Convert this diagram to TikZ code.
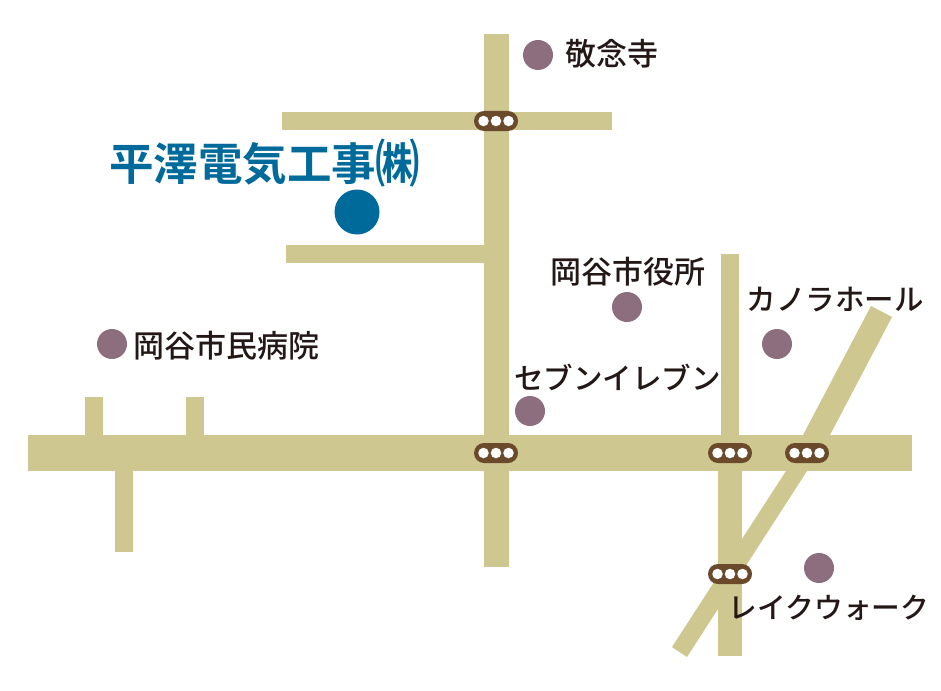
\documentclass[tikz,border=0pt]{standalone}
\usepackage{fontspec}
\newfontfamily\jpfont{Noto Sans CJK JP Medium}
\newfontfamily\jpbold{Noto Sans CJK JP Bold}
\definecolor{road}{HTML}{CEC78F}
\definecolor{lamp}{HTML}{6B4A2B}
\definecolor{spot}{HTML}{8C6E7E}
\definecolor{firm}{HTML}{006A9B}
\definecolor{ink}{HTML}{231815}
\tikzset{
  roadfill/.style={fill=road,draw=none},
  spotdot/.style={circle,fill=spot,draw=none,minimum size=30pt,inner sep=0pt},
  firmdot/.style={circle,fill=firm,draw=none,minimum size=45pt,inner sep=0pt},
  pill/.style={rounded rectangle,fill=lamp,draw=none,minimum width=44pt,minimum height=20pt,inner sep=0pt},
  lampdot/.style={circle,fill=white,draw=none,minimum size=10.5pt,inner sep=0pt},
  place/.style={text=ink,inner sep=0pt,font=\jpfont\fontsize{31}{31}\selectfont},
  kana/.style={text=ink,inner sep=0pt,font=\jpfont\fontsize{29.5}{31}\selectfont},
  firmname/.style={text=firm,inner sep=0pt,font=\jpbold\fontsize{44.5}{44.5}\selectfont},
}
\usetikzlibrary{shapes.misc}
\newcommand{\signal}[2]{%
  \node[pill] (sig#2) at #1 {};
  \node[lampdot] at ([xshift=-12.5pt]sig#2.center) {};
  \node[lampdot] at (sig#2.center) {};
  \node[lampdot] at ([xshift=12.5pt]sig#2.center) {};
}
\begin{document}
\begin{tikzpicture}[x=1pt,y=-1pt]
\useasboundingbox (0,0) rectangle (941,690);
\fill[white] (0,0) rectangle (941,690);
% roads
\fill[roadfill] (484,34) rectangle (509,567);
\fill[roadfill] (282,112) rectangle (612,130);
\fill[roadfill] (286,245) rectangle (484,263);
\fill[roadfill] (28,435) rectangle (912,471);
\fill[roadfill] (85,397) rectangle (103,435);
\fill[roadfill] (186,397) rectangle (204,435);
\fill[roadfill] (115,471) rectangle (133,552);
\fill[roadfill] (721,254) rectangle (739,435);
\fill[roadfill] (718,471) rectangle (742,656);
\fill[roadfill] (871,306) -- (892,317) -- (830,435) -- (803,435) -- cycle;
\fill[roadfill] (786,471) -- (807,471) -- (687,657) -- (672,647) -- cycle;
% signals
\signal{(496,121)}{a}
\signal{(496,453)}{b}
\signal{(730,453)}{c}
\signal{(807,453)}{d}
\signal{(730,574)}{e}
% spots
\node[spotdot] (keinenji) at (538,55) {};
\node[spotdot] (shiyakusho) at (627,307) {};
\node[spotdot] (byoin) at (112,344) {};
\node[spotdot] (kanora) at (777,344) {};
\node[spotdot] (seven) at (530,411) {};
\node[spotdot] (lake) at (819,568) {};
\node[firmdot] (firm) at (357,212) {};
% labels
\node[place] (t1) at (612,54) {敬念寺};
\node[place] (t2) at (627.5,271.5) {岡谷市役所};
\node[kana] (t3) at (835,299.5) {カノラホール};
\node[place] (t4) at (226.5,345.5) {岡谷市民病院};
\node[kana] (t5) at (617.5,377.5) {セブンイレブン};
\node[kana,font=\jpfont\fontsize{28.7}{31}\selectfont] (t6) at (829,607.5) {レイクウォーク};
\node[firmname] (t7) at (242.5,164) {平澤電気工事};
\node[firmname] (t8) at (398,163.5) {\scalebox{1}[1.15]{㈱}};
\end{tikzpicture}
\end{document}
